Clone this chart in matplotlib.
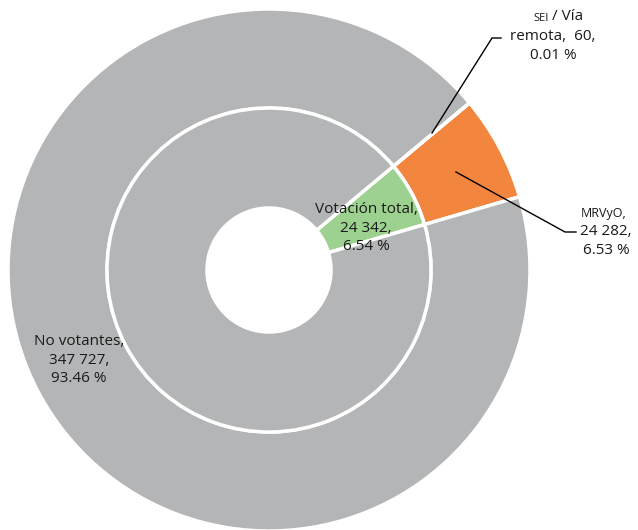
import matplotlib.pyplot as plt

plt.rcParams['font.family'] = ['Open Sans', 'DejaVu Sans']

# inner ring: total vote vs non-voters
inner_labels = ['Votación total', 'No votantes']
inner_values = [24342, 347727]
inner_pct = ['6.54 %', '93.46 %']

# outer ring: vote split by channel
outer_labels = ['MRVyO', 'SEI / Vía remota', 'No votantes']
outer_values = [24282, 60, 347727]
outer_pct = ['6.53 %', '0.01 %', '93.46 %']

GRAY = '#b3b5b6'
ORANGE = '#f3863e'
GREEN = '#9dd18f'
INK = '#1a1a1a'

W, H = 638, 530
CX, CY, R = 269, 270, 261


def px(x, y):
    # pixel (from top-left) -> data coords
    return (x - CX) / R, (CY - y) / R


def num(v):
    return f'{v:,}'.replace(',', ' ')


def main():
    fig = plt.figure(figsize=(W / 100, H / 100), dpi=100)
    ax = fig.add_axes([0, 0, 1, 1])

    start = 16.3
    ax.pie(outer_values, radius=1.0, startangle=start, counterclock=True,
           colors=[ORANGE, GRAY, GRAY],
           wedgeprops=dict(width=1.0 - 162 / R, edgecolor='white', linewidth=2.5))
    ax.pie(inner_values, radius=162 / R, startangle=start, counterclock=True,
           colors=[GREEN, GRAY],
           wedgeprops=dict(width=(162 - 62) / R, edgecolor='white', linewidth=2.5))

    ax.set_xlim(-CX / R, (W - CX) / R)
    ax.set_ylim(-(H - CY) / R, CY / R)
    ax.set_aspect('equal')
    ax.axis('off')

    fs = 11
    ax.text(*px(366, 228), f'{inner_labels[0]},\n{num(inner_values[0])},\n{inner_pct[0]}',
            ha='center', va='center', fontsize=fs, linespacing=1.3, color=INK)
    ax.text(*px(79, 360), f'{inner_labels[1]},\n{num(inner_values[1])},\n{inner_pct[1]}',
            ha='center', va='center', fontsize=fs, linespacing=1.3, color=INK)

    # MRVyO label
    ax.text(*px(604, 213), f'{outer_labels[0]},', ha='center', va='center',
            fontsize=fs - 2, color=INK)
    ax.text(*px(606, 241), f'{num(outer_values[0])},\n{outer_pct[0]}',
            ha='center', va='center', fontsize=fs, linespacing=1.3, color=INK)
    ax.plot(*zip(px(456, 172), px(565, 232), px(576, 232)), color='black', lw=1)

    # SEI / Vía remota label
    sei, via = outer_labels[1].split(' / ')
    ax.text(*px(549, 18), sei, ha='right', va='center', fontsize=fs - 3, color=INK)
    ax.text(*px(552, 17), '/ ' + via.split()[0], ha='left', va='center', fontsize=fs, color=INK)
    ax.text(*px(553, 46), f'{via.split()[1]},  {outer_values[1]},\n{outer_pct[1]}',
            ha='center', va='center', fontsize=fs, linespacing=1.3, color=INK)
    ax.plot(*zip(px(432, 133), px(492, 38), px(501, 38)), color='black', lw=1)

    fig.savefig('out.png', dpi=100)


if __name__ == '__main__':
    main()
